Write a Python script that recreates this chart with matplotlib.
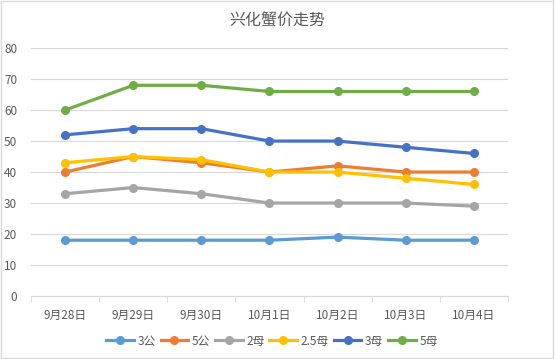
import matplotlib.pyplot as plt
from matplotlib.patches import Rectangle

plt.rcParams['font.family'] = ['Noto Sans CJK SC', 'DejaVu Sans']

# Data
dates = ['9月28日', '9月29日', '9月30日', '10月1日', '10月2日', '10月3日', '10月4日']
names = ['3公', '5公', '2母', '2.5母', '3母', '5母']
gong3 = [18, 18, 18, 18, 19, 18, 18]
gong5 = [40, 45, 43, 40, 42, 40, 40]
mu2 = [33, 35, 33, 30, 30, 30, 29]
mu25 = [43, 45, 44, 40, 40, 38, 36]
mu3 = [52, 54, 54, 50, 50, 48, 46]
mu5 = [60, 68, 68, 66, 66, 66, 66]
series = [gong3, gong5, mu2, mu25, mu3, mu5]
colors = ['#5B9BD5', '#ED7D31', '#A5A5A5', '#FFC000', '#4472C4', '#70AD47']

fig = plt.figure(figsize=(5.55, 3.59), dpi=100)
ax = fig.add_axes([0.056, 0.1755, 0.859, 0.6905])

x = range(len(dates))
for vals, name, c in zip(series, names, colors):
    ax.plot(x, vals, color=c, lw=2.3, marker='o', ms=5.5, label=name)

ax.set_xlim(-0.5, len(dates) - 0.5)
ax.set_ylim(0, 80)
ax.set_yticks(range(0, 81, 10))
ax.set_xticks(x)
ax.set_xticklabels(dates)
ax.set_xticks([i - 0.5 for i in range(len(dates) + 1)], minor=True)
ax.tick_params(axis='x', which='major', length=0, pad=9, labelsize=8.5, colors='#595959')
ax.tick_params(axis='x', which='minor', length=4, color='#D9D9D9')
ax.tick_params(axis='y', length=0, labelsize=8.5, colors='#595959', pad=10)
ax.grid(axis='y', color='#D9D9D9', lw=0.8)
for s in ['top', 'right', 'left']:
    ax.spines[s].set_visible(False)
ax.spines['bottom'].set_color('#D9D9D9')
ax.set_axisbelow(True)

fig.text(0.5, 0.94, '兴化蟹价走势', ha='center', va='center', fontsize=11.5, color='#595959')

leg = fig.legend(loc='center', bbox_to_anchor=(0.49, 0.05), ncol=6, frameon=False,
                 fontsize=8.5, handlelength=2.35, columnspacing=0.4, handletextpad=0.3)
for t in leg.get_texts():
    t.set_color('#595959')

fig.patches.append(Rectangle((0.002, 0.003), 0.995, 0.993, transform=fig.transFigure,
                             fill=False, ec='#D9D9D9', lw=1))

fig.savefig('out.png', dpi=100)
